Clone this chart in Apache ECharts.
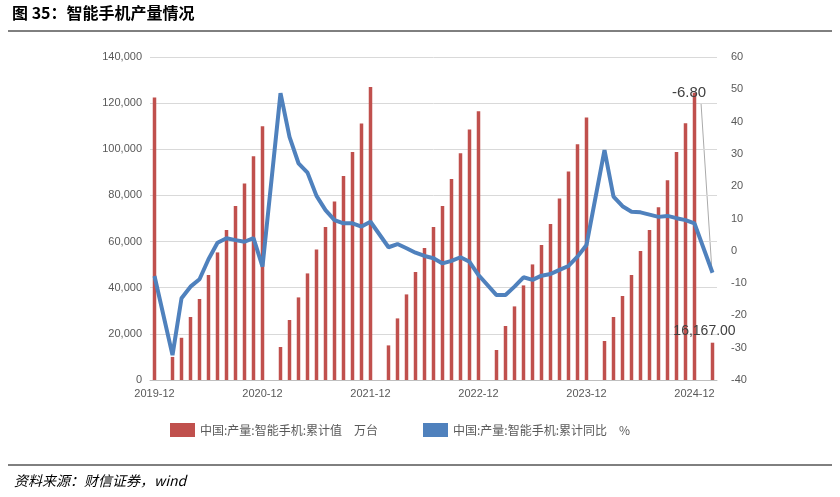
<!DOCTYPE html><html><head><meta charset="utf-8"><script src="https://cdn.jsdelivr.net/npm/echarts@6/dist/echarts.min.js"></script></head><body style="margin:0;background:#fff"><div id="c" style="width:840px;height:497px"></div><script>
const categories=[];for(let y=2019;y<=2025;y++)for(let m=1;m<=12;m++){const s=y+'-'+(m<10?'0'+m:m);if(s>='2019-12'&&s<='2025-02')categories.push(s);}
const production=[122400,null,10000,18300,27300,35100,45500,55300,65000,75400,85200,97000,110000,
null,14300,26000,35800,46200,56600,66300,77400,88400,98800,111200,127000,
null,15000,26700,37100,46800,57200,66300,75400,87100,98300,108600,116500,
null,13000,23400,31900,41000,50100,58500,67600,78700,90400,102200,113800,
null,16900,27300,36400,45500,55900,65000,74900,86600,98800,111300,124500,
null,16167];
const yoy=[-7.8,null,-32.3,-14.7,-11.1,-8.8,-2.6,2.5,3.9,3.3,2.8,3.9,-4.9,
null,48.8,35.3,27.1,24.2,17.0,12.6,9.5,8.5,8.5,7.5,9.0,
null,1.1,2.1,0.8,-0.6,-1.6,-2.3,-3.9,-3.1,-2.0,-3.4,-7.5,
null,-13.7,-13.7,-11.1,-8.2,-9.0,-7.7,-7.2,-5.9,-4.7,-1.8,1.8,
null,31.2,16.8,13.8,12.1,11.9,11.2,10.5,10.8,10.1,9.5,8.5,
null,-6.8];
const showIdx=i=>categories[i].endsWith('-12');
const c=echarts.init(document.getElementById('c'));
const n=production.length;
c.setOption({animation:false,
graphic:[
{type:'text',left:12,top:5,style:{text:'图 35：智能手机产量情况',font:'bold 16px "Noto Sans CJK SC"',fill:'#000'}},
{type:'line',shape:{x1:8,y1:31,x2:832,y2:31},style:{stroke:'#000',lineWidth:1}},
{type:'line',shape:{x1:8,y1:465,x2:832,y2:465},style:{stroke:'#000',lineWidth:1}},
{type:'text',left:14,top:474,style:{text:'资料来源：财信证券，wind',font:'italic 14px "Noto Sans CJK SC"',fill:'#000'}},
{type:'text',left:672,top:85,z:100,style:{text:'-'+Math.abs(yoy[n-1]).toFixed(2),font:'15px "Liberation Sans"',fill:'#404040'}},
{type:'line',shape:{x1:701,y1:103,x2:712,y2:272},style:{stroke:'#aaa',lineWidth:1}}
],
legend:{bottom:55,left:165,itemGap:45,textStyle:{color:'#595959',fontSize:12,fontFamily:'Noto Sans CJK SC'},
data:[{name:'中国:产量:智能手机:累计值　万台',icon:'rect',itemWidth:38,itemHeight:8},{name:'中国:产量:智能手机:累计同比　%',icon:'rect',itemWidth:40,itemHeight:4}]},
grid:{left:150,right:123,top:57,bottom:117},
xAxis:{type:'category',data:categories,boundaryGap:true,
axisLine:{lineStyle:{color:'#bfbfbf'}},axisTick:{alignWithLabel:true,interval:(i)=>showIdx(i),lineStyle:{color:'#bfbfbf'}},
axisLabel:{interval:(i)=>showIdx(i),color:'#595959',fontSize:11,margin:8}},
yAxis:[{type:'value',min:0,max:140000,interval:20000,axisLabel:{color:'#595959',fontSize:11,formatter:v=>v.toLocaleString('en-US')},splitLine:{lineStyle:{color:'#d9d9d9'}},axisLine:{show:false},axisTick:{show:false}},
{type:'value',min:-40,max:60,interval:10,axisLabel:{color:'#595959',fontSize:11,margin:14},splitLine:{show:false},axisLine:{show:false},axisTick:{show:false}}],
series:[
{name:'中国:产量:智能手机:累计值　万台',type:'bar',data:production.map((v,i)=>i===n-1?{value:v,label:{show:true,position:'top',offset:[-8,0],formatter:'16,167.00',color:'#404040',fontSize:14}}:v),barWidth:3.5,itemStyle:{color:'#c0504d'}},
{name:'中国:产量:智能手机:累计同比　%',type:'line',yAxisIndex:1,connectNulls:true,symbol:'none',data:yoy,lineStyle:{color:'#4f81bd',width:4},itemStyle:{color:'#4f81bd'}}
]});
</script></body></html>
